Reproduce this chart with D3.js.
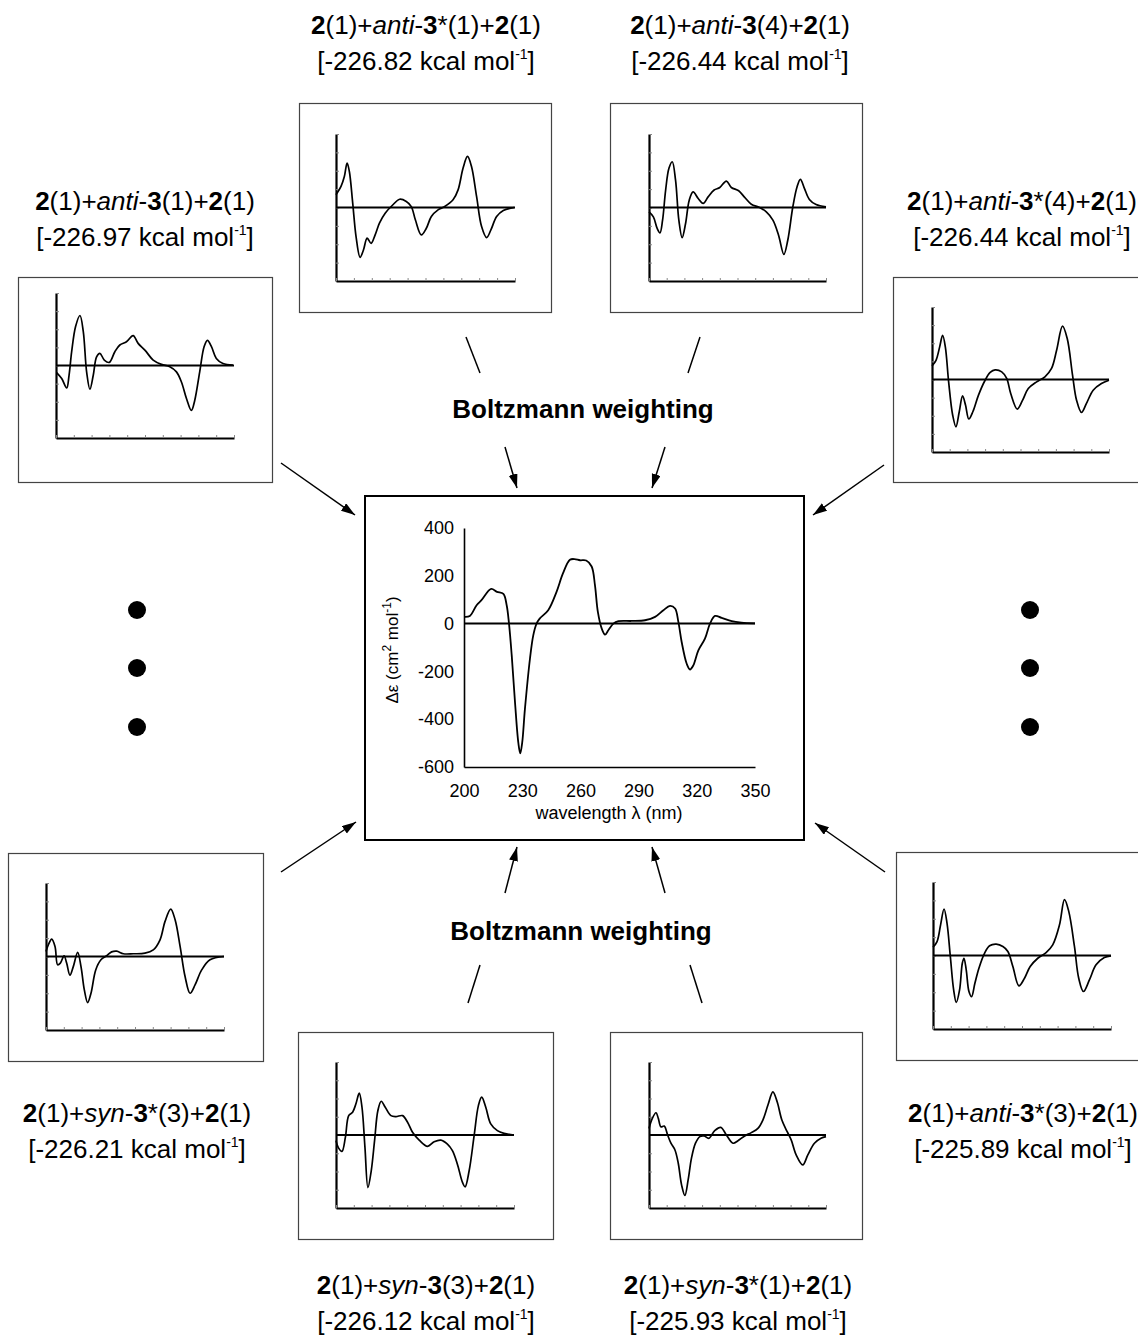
<!DOCTYPE html>
<html>
<head>
<meta charset="utf-8">
<script src="https://cdn.jsdelivr.net/npm/d3@7"></script>
<style>
body { margin: 0; background: #fff; }
svg { display: block; font-family: "Liberation Sans", Arial, Helvetica, sans-serif; }
</style>
</head>
<body>
<div id="fig"></div>
<script>
// averaged CD spectrum (Boltzmann weighted)
var mainWavelength = [200.5, 203, 206.5, 209, 214, 217, 220.3, 222, 223.2, 224.6, 226.3, 228, 229, 230, 231.4, 234, 235.7, 237.4, 239, 243.4, 247.7, 251, 254.6, 257, 259.8, 263, 265.8, 267.5, 269, 271, 272.7, 274.4, 277, 279.6, 286.4, 293.3, 298.5, 302.8, 306.2, 308.8, 310.5, 312.2, 314.8, 316.5, 318.2, 320.8, 324.2, 326.8, 329.4, 332.8, 338, 343, 350];
var mainDeltaEps = [28, 32, 77, 98, 145, 133, 124, 77, 0, -133, -330, -498, -543, -498, -358, -147, -49, 0, 21, 56, 133, 210, 267, 270, 265, 264, 239, 161, 49, -21, -46, -28, 0, 10, 11, 14, 28, 56, 74, 63, 7, -77, -168, -192, -175, -112, -63, 0, 32, 24, 10, 4, 1];
var mainYTicks = [-600, -400, -200, 0, 200, 400];
var mainXTicks = [200, 230, 260, 290, 320, 350];

// conformer labels
var panelIsomer = ["anti", "anti", "anti", "anti", "syn", "syn", "syn", "anti"];
var panelStar = [false, true, false, true, true, false, true, true];
var panelConf = [1, 1, 4, 4, 3, 3, 1, 3];
var panelEnergy = ["-226.97", "-226.82", "-226.44", "-226.44", "-226.21", "-226.12", "-225.93", "-225.89"];

// single conformer spectra, [wavelength, relative value]
var cdA = [[200.5,-0.39],[204.8,-0.72],[209,-1.24],[211,-0.54],[213.2,0.76],[216.5,2.15],[220.2,2.76],[223,1.87],[225.8,-0.35],[228.6,-1.31],[231.4,-0.54],[234.2,0.48],[237,0.67],[240.7,0.3],[244.9,0.17],[249.6,0.76],[253.8,1.13],[259.4,1.31],[265,1.65],[269.2,1.22],[274.9,0.85],[281.9,0.3],[288.9,0.06],[295.9,-0.07],[301.5,-0.35],[305.7,-0.91],[310,-1.83],[314.1,-2.48],[316.9,-1.93],[321.1,-0.35],[324.8,1.04],[327.6,1.39],[331,1.04],[335.1,0.39],[340.7,0.11],[349.1,0.02]];
var cdB = [[200,0.69],[204.2,1.15],[207,1.69],[209.3,2.42],[211.2,1.96],[214,0.24],[216.8,-1.58],[220.2,-2.71],[223,-2.31],[226.1,-1.67],[229.4,-1.95],[232.8,-1.49],[236.4,-0.85],[241.2,-0.31],[247.7,0.15],[253.3,0.45],[258.9,0.33],[263.1,0.05],[266.5,-0.67],[271.5,-1.49],[275.7,-1.13],[279.9,-0.49],[285.5,-0.13],[291.1,0.05],[298.1,0.42],[302.3,0.96],[306.5,2.15],[310.2,2.78],[313.5,2.24],[317.8,0.6],[322,-1.04],[326.2,-1.64],[329.8,-1.22],[334.6,-0.49],[340.2,-0.16],[349.4,0]];
var cdC = [[200,-0.24],[203.7,-0.51],[207,-1.15],[209.3,-1.38],[211.5,-0.69],[214.1,0.95],[216.9,2.13],[219.7,2.49],[222.5,1.49],[225.3,-0.69],[228.1,-1.64],[231,-0.87],[234.1,0.4],[237.4,0.85],[241.7,0.49],[245.9,0.22],[250.1,0.58],[255.2,0.95],[260,1.09],[265.6,1.44],[269.8,1.09],[276,0.91],[281.1,0.55],[286.7,0.18],[293.7,0],[299.4,-0.24],[305,-0.69],[309.8,-1.51],[314.3,-2.55],[317.6,-1.78],[321.9,0.04],[325.5,1.13],[328.3,1.53],[331.7,1.04],[335.9,0.44],[341.6,0.16],[350,0.04]];
var cdD = [[200,0.75],[203.4,1.06],[206.5,1.8],[209,2.44],[211.3,1.8],[214.1,-0.13],[217.5,-1.96],[220.3,-2.61],[223.1,-1.78],[225.9,-0.9],[228.4,-1.41],[231.2,-2.18],[234.6,-1.78],[239.4,-0.86],[245,-0.04],[249.3,0.39],[253.5,0.53],[259.1,0.42],[263.3,0.06],[266.7,-0.77],[272.3,-1.63],[276.8,-1.14],[281.6,-0.5],[288.7,-0.13],[295.7,0.15],[301.3,0.61],[305.6,1.61],[310.6,2.94],[314.6,2.26],[319.1,0.24],[322.5,-1.14],[326.7,-1.82],[330.9,-1.32],[336.6,-0.59],[343.6,-0.22],[350,-0.04]];
var cdE = [[200,0.27],[202,0.64],[204.8,0.95],[207.6,0.55],[209.8,-0.45],[212.1,-0.36],[215.2,0.04],[217.4,-0.36],[220.2,-1.02],[223,-0.55],[226.7,0.22],[229.5,-0.55],[232.3,-1.82],[235.1,-2.51],[237.9,-2],[241.9,-0.73],[246.3,-0.18],[251.1,0.04],[255.3,0.25],[259.6,0.29],[265.2,0.15],[273.6,0.15],[283.4,0.18],[290.4,0.36],[296.1,0.91],[300.3,1.91],[305.1,2.58],[308.8,2],[313,0.55],[317.2,-1.09],[321.4,-2],[325.6,-1.55],[331.2,-0.73],[338.2,-0.18],[350,0]];
var cdF = [[200,-0.31],[202.2,-0.72],[205,-0.9],[207.9,-0.13],[210.7,1.06],[214,1.25],[216.8,1.71],[219.6,2.29],[221.9,1.52],[224.4,-0.68],[226.9,-2.88],[229.7,-1.96],[232.5,-0.31],[235.3,1.34],[238.1,1.85],[241.5,1.52],[246.3,1.06],[250.5,1.01],[256.1,1.06],[260.3,0.7],[264.5,0.15],[270.1,-0.28],[277.1,-0.62],[282.7,-0.37],[288.3,-0.28],[293.9,-0.5],[298.1,-0.86],[302.3,-1.6],[306.6,-2.6],[308.8,-2.84],[312.2,-1.96],[316.4,-0.04],[320,1.61],[322.8,2.07],[326.2,1.52],[330.4,0.61],[336,0.24],[341.6,0.09],[350,0]];
var cdG = [[200,0.36],[202.8,0.91],[205.9,1.22],[207.9,0.91],[210.1,0.45],[212.9,0.49],[215.8,0],[218.6,-0.45],[222,-0.82],[224.8,-1.55],[227.6,-2.73],[230.4,-3.31],[233.2,-2.45],[236,-1.27],[239.4,-0.45],[243.1,-0.09],[246.7,-0.05],[250.7,-0.18],[255.7,0.24],[260.8,0.42],[265.6,0],[271.2,-0.45],[275.4,-0.31],[281.1,-0.05],[286.7,0.13],[292.3,0.36],[296.5,0.82],[300.8,1.64],[305,2.36],[308.6,1.82],[312.6,0.82],[317.1,0.18],[320.5,-0.27],[324.7,-1.09],[330.3,-1.64],[334.6,-1.09],[340.2,-0.45],[345.8,-0.18],[350,-0.09]];
var cdH = [[200,0.45],[203.4,0.76],[206.4,1.67],[209.3,2.53],[211.8,1.76],[214.6,-0.05],[217.4,-1.87],[219.6,-2.55],[222.4,-1.87],[224.7,-0.42],[226.1,-0.15],[228,-0.78],[230.3,-1.96],[232.5,-2.24],[235.3,-1.51],[238.7,-0.69],[243.5,0.13],[247.7,0.53],[253.3,0.62],[258.9,0.49],[263.1,0.22],[267.3,-0.6],[272.4,-1.65],[277.1,-1.24],[281.9,-0.6],[288.3,-0.15],[295.3,0.16],[300.9,0.58],[306.6,1.67],[310.8,3.04],[314.4,2.4],[319.2,0.49],[322.8,-1.24],[326.8,-1.96],[331.8,-1.33],[337.4,-0.51],[344.4,-0.11],[350,-0.02]];
var panelCurves = [cdA, cdB, cdC, cdD, cdE, cdF, cdG, cdH];
var smallYTicks = [-4, -3, -2, -1, 0, 1, 2, 3, 4];
var smallXTicks = [200, 215, 230, 245, 260, 275, 290, 305, 320, 335, 350];

// where each panel sits on the page
var layout = [
  { box: [18, 277, 254, 205], plot: [56, 234, 293, 438], cx: 145, ty: 210 },
  { box: [299, 103, 252, 209], plot: [336, 515, 134, 281], cx: 426, ty: 34 },
  { box: [610, 103, 252, 209], plot: [649, 826, 134, 281], cx: 740, ty: 34 },
  { box: [893, 277, 254, 205], plot: [932, 1109, 307, 452], cx: 1022, ty: 210 },
  { box: [8, 853, 255, 208], plot: [46, 224, 883, 1030], cx: 137, ty: 1122 },
  { box: [298, 1032, 255, 207], plot: [336, 514, 1062, 1208], cx: 426, ty: 1294 },
  { box: [610, 1032, 252, 207], plot: [649, 826, 1062, 1208], cx: 738, ty: 1294 },
  { box: [896, 852, 252, 208], plot: [933, 1111, 882, 1029], cx: 1023, ty: 1122 }
];

var W = 1138, H = 1338;
var svg = d3.select("#fig").append("svg").attr("width", W).attr("height", H);

svg.append("defs").append("marker")
  .attr("id", "head").attr("markerUnits", "userSpaceOnUse")
  .attr("markerWidth", 15).attr("markerHeight", 10)
  .attr("refX", 14).attr("refY", 4.5).attr("orient", "auto")
  .append("path").attr("d", "M0,0 L14,4.5 L0,9 Z").attr("fill", "#000");

// ---- small panels
layout.forEach(function(p, i) {
  var g = svg.append("g");
  g.append("rect")
    .attr("x", p.box[0] + 0.5).attr("y", p.box[1] + 0.5)
    .attr("width", p.box[2]).attr("height", p.box[3])
    .attr("fill", "none").attr("stroke", "#444").attr("stroke-width", 1.2);

  var sx = d3.scaleLinear().domain([200, 350]).range([p.plot[0], p.plot[1]]);
  var sy = d3.scaleLinear().domain([-4, 4]).range([p.plot[3], p.plot[2]]);

  var ay = g.append("g").attr("transform", "translate(" + p.plot[0] + ",0)")
    .call(d3.axisLeft(sy).tickValues(smallYTicks).tickSize(-3).tickSizeOuter(0).tickFormat(""));
  var ax = g.append("g").attr("transform", "translate(0," + p.plot[3] + ")")
    .call(d3.axisBottom(sx).tickValues(smallXTicks).tickSize(-3).tickSizeOuter(0).tickFormat(""));
  [ay, ax].forEach(function(a) {
    a.select(".domain").attr("stroke", "#000").attr("stroke-width", 2.2);
    a.selectAll(".tick line").attr("stroke", "#888").attr("stroke-width", 1);
  });

  g.append("line")
    .attr("x1", sx(200)).attr("x2", sx(350)).attr("y1", sy(0)).attr("y2", sy(0))
    .attr("stroke", "#000").attr("stroke-width", 1.8);

  var line = d3.line().x(function(d) { return sx(d[0]); }).y(function(d) { return sy(d[1]); })
    .curve(d3.curveCatmullRom.alpha(0.5));
  g.append("path").datum(panelCurves[i]).attr("d", line)
    .attr("fill", "none").attr("stroke", "#000").attr("stroke-width", 1.7);

  // label: compound name and energy
  var t1 = svg.append("text").attr("x", p.cx).attr("y", p.ty)
    .attr("text-anchor", "middle").attr("font-size", 26);
  var segs = [
    ["2", "bold"], ["(1)+", ""], [panelIsomer[i], "italic"], ["-", ""], ["3", "bold"],
    [(panelStar[i] ? "*" : "") + "(" + panelConf[i] + ")+", ""], ["2", "bold"], ["(1)", ""]
  ];
  segs.forEach(function(s) {
    var ts = t1.append("tspan").text(s[0]);
    if (s[1] == "bold") ts.attr("font-weight", "bold");
    if (s[1] == "italic") ts.attr("font-style", "italic");
  });
  var t2 = svg.append("text").attr("x", p.cx).attr("y", p.ty + 36)
    .attr("text-anchor", "middle").attr("font-size", 26);
  t2.append("tspan").text("[" + panelEnergy[i] + " kcal mol");
  t2.append("tspan").text("-1").attr("font-size", 14).attr("dy", -11);
  t2.append("tspan").text("]").attr("dy", 11);
});

// ---- central weighted spectrum
svg.append("rect").attr("x", 365).attr("y", 496).attr("width", 439).attr("height", 344)
  .attr("fill", "#fff").attr("stroke", "#000").attr("stroke-width", 2);

var x = d3.scaleLinear().domain([200, 350]).range([464, 755]);
var y = d3.scaleLinear().domain([-600, 400]).range([767, 528]);

var yAxis = svg.append("g").attr("transform", "translate(464,0)")
  .call(d3.axisLeft(y).tickValues(mainYTicks).tickSize(0).tickPadding(10)
    .tickFormat(function(d) { return String(d); }));
var xAxis = svg.append("g").attr("transform", "translate(0,767)")
  .call(d3.axisBottom(x).tickValues(mainXTicks).tickSize(0).tickPadding(17)
    .tickFormat(function(d) { return String(d); }));
[yAxis, xAxis].forEach(function(a) {
  a.select(".domain").attr("stroke", "#000").attr("stroke-width", 1.6);
  a.selectAll("text").attr("font-size", 18).attr("fill", "#000")
    .attr("font-family", "Liberation Sans, Arial, sans-serif");
});

svg.append("line").attr("x1", x(200)).attr("x2", x(350)).attr("y1", y(0)).attr("y2", y(0))
  .attr("stroke", "#000").attr("stroke-width", 2);

var mainLine = d3.line()
  .x(function(d, i) { return x(mainWavelength[i]); })
  .y(function(d) { return y(d); })
  .curve(d3.curveCatmullRom.alpha(0.5));
svg.append("path").datum(mainDeltaEps).attr("d", mainLine)
  .attr("fill", "none").attr("stroke", "#000").attr("stroke-width", 1.8);

svg.append("text").attr("x", 609).attr("y", 819).attr("text-anchor", "middle")
  .attr("font-size", 18).text("wavelength \u03bb (nm)");

var yl = svg.append("text").attr("transform", "translate(398,650) rotate(-90)")
  .attr("text-anchor", "middle").attr("font-size", 17);
yl.append("tspan").text("\u0394\u03b5 (cm");
yl.append("tspan").text("2").attr("font-size", 12).attr("dy", -7);
yl.append("tspan").text(" mol").attr("dy", 7);
yl.append("tspan").text("-1").attr("font-size", 12).attr("dy", -7);
yl.append("tspan").text(")").attr("dy", 7);

// ---- arrows, strokes, dots, captions
var arrows = [
  [281, 463, 355, 515], [505, 447, 517, 488], [665, 447, 652, 488], [884, 465, 813, 515],
  [281, 872, 356, 822], [505, 893, 517, 847], [665, 893, 652, 847], [885, 872, 815, 823]
];
svg.selectAll(".arrow").data(arrows).enter().append("line")
  .attr("x1", function(d) { return d[0]; }).attr("y1", function(d) { return d[1]; })
  .attr("x2", function(d) { return d[2]; }).attr("y2", function(d) { return d[3]; })
  .attr("stroke", "#000").attr("stroke-width", 1.5).attr("marker-end", "url(#head)");

var strokes = [[466, 337, 480, 373], [700, 337, 688, 373], [480, 965, 468, 1003], [690, 965, 702, 1003]];
svg.selectAll(".stroke").data(strokes).enter().append("line")
  .attr("x1", function(d) { return d[0]; }).attr("y1", function(d) { return d[1]; })
  .attr("x2", function(d) { return d[2]; }).attr("y2", function(d) { return d[3]; })
  .attr("stroke", "#000").attr("stroke-width", 1.5);

var dots = [[137, 610], [137, 668], [137, 727], [1030, 610], [1030, 668], [1030, 727]];
svg.selectAll(".dot").data(dots).enter().append("circle")
  .attr("cx", function(d) { return d[0]; }).attr("cy", function(d) { return d[1]; })
  .attr("r", 9).attr("fill", "#000");

[[583, 418], [581, 940]].forEach(function(c) {
  svg.append("text").attr("x", c[0]).attr("y", c[1]).attr("text-anchor", "middle")
    .attr("font-size", 26).attr("font-weight", "bold").text("Boltzmann weighting");
});
</script>
</body>
</html>
